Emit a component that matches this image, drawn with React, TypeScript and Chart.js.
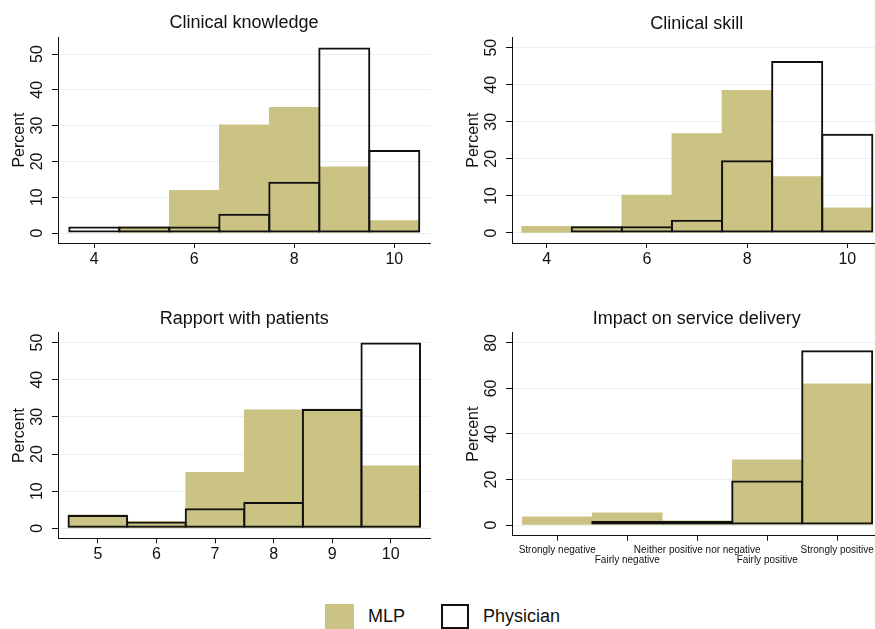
import React, { useEffect, useRef } from "react";
import { Chart, registerables } from "chart.js";

Chart.register(...registerables);

// ---- data (percent of respondents) ----
const scoreBins = [4, 5, 6, 7, 8, 9, 10];
const knowledgeMLP = [0, 1.8, 11.9, 30.2, 35.1, 18.5, 3.5];
const knowledgePhysician = [1.8, 1.8, 1.8, 5.4, 14.3, 51.8, 23.2];
const skillMLP = [1.8, 1.8, 10.2, 26.8, 38.5, 15.2, 6.8];
const skillPhysician = [0, 1.8, 1.8, 3.6, 19.6, 46.4, 26.8];

const rapportBins = [5, 6, 7, 8, 9, 10];
const rapportMLP = [3.6, 1.8, 15.1, 31.9, 32.1, 16.8];
const rapportPhysician = [3.6, 1.8, 5.4, 7.1, 32.1, 50.0];

const impactBins = [1, 2, 3, 4, 5];
const impactCategories = [
  "Strongly negative",
  "Fairly negative",
  "Neither positive nor negative",
  "Fairly positive",
  "Strongly positive",
];
const impactMLP = [3.6, 5.3, 1.8, 28.6, 62.0];
const impactPhysician = [0, 1.8, 1.8, 19.6, 76.8];

const scoreTicks = [4, 6, 8, 10];
const rapportTicks = [5, 6, 7, 8, 9, 10];
const percentTicks50 = [0, 10, 20, 30, 40, 50];
const percentTicks80 = [0, 20, 40, 60, 80];

const seriesNames = ["MLP", "Physician"];

const FONT = '"Liberation Sans", Arial, Helvetica, sans-serif';
const KHAKI = "#cbc383";
const GRID = "#e9f0f2";
const OUTLINE = 2;
const Y_AXIS_WIDTH = 58;
const RIGHT_PAD = 10;

type PanelSpec = {
  title: string;
  bins: number[];
  mlp: number[];
  physician: number[];
  xTicks: number[];
  xLabels?: string[];
  yTicks: number[];
  xRange: [number, number];
  yRange: [number, number];
  box: { left: number; top: number; width: number; height: number };
  padTop: number;
  xHeight: number;
  titlePos: [number, number];
};

const panels: PanelSpec[] = [
  {
    title: "Clinical knowledge",
    bins: scoreBins,
    mlp: knowledgeMLP,
    physician: knowledgePhysician,
    xTicks: scoreTicks,
    yTicks: percentTicks50,
    xRange: [3.274, 10.714],
    yRange: [-2.79, 54.75],
    box: { left: 0, top: 0, width: 440, height: 290 },
    padTop: 37,
    xHeight: 47,
    titlePos: [244, 23.5],
  },
  {
    title: "Clinical skill",
    bins: scoreBins,
    mlp: skillMLP,
    physician: skillPhysician,
    xTicks: scoreTicks,
    yTicks: percentTicks50,
    xRange: [3.307, 10.553],
    yRange: [-2.7, 52.8],
    box: { left: 454, top: 0, width: 431, height: 290 },
    padTop: 37.3,
    xHeight: 47,
    titlePos: [242.7, 23.7],
  },
  {
    title: "Rapport with patients",
    bins: rapportBins,
    mlp: rapportMLP,
    physician: rapportPhysician,
    xTicks: rapportTicks,
    yTicks: percentTicks50,
    xRange: [4.32, 10.67],
    yRange: [-2.69, 52.66],
    box: { left: 0, top: 290, width: 440, height: 290 },
    padTop: 42.7,
    xHeight: 41.7,
    titlePos: [244.3, 29.3],
  },
  {
    title: "Impact on service delivery",
    bins: impactBins,
    mlp: impactMLP,
    physician: impactPhysician,
    xTicks: impactBins,
    xLabels: impactCategories,
    yTicks: percentTicks80,
    xRange: [0.353, 5.54],
    yRange: [-4.7, 84.5],
    box: { left: 454, top: 290, width: 431, height: 290 },
    padTop: 42.7,
    xHeight: 44.3,
    titlePos: [242.7, 29.3],
  },
];

// Draws the panel heading and the rotated y tick labels.
const panelText = {
  id: "panelText",
  afterDraw(chart: any, _args: any, opts: any) {
    const { ctx, chartArea } = chart;
    const yScale = chart.scales.y;
    ctx.save();
    ctx.fillStyle = "#111";
    ctx.textAlign = "center";
    ctx.textBaseline = "middle";
    ctx.font = `16px ${FONT}`;
    for (const t of yScale.ticks) {
      const py = yScale.getPixelForValue(t.value);
      ctx.save();
      ctx.translate(chartArea.left - 20.5, py);
      ctx.rotate(-Math.PI / 2);
      ctx.fillText(String(t.value), 0, 0);
      ctx.restore();
    }
    ctx.font = `18px ${FONT}`;
    ctx.fillText(opts.title, opts.x, opts.y);
    ctx.restore();
  },
};

function Panel({ spec }: { spec: PanelSpec }) {
  const ref = useRef<HTMLCanvasElement | null>(null);

  useEffect(() => {
    if (!ref.current) return;
    const toPoints = (vals: number[]) =>
      spec.bins.map((b, i) => ({ x: b, y: vals[i] > 0 ? vals[i] : null }));

    // Widen the outlined bars by one stroke so neighbouring outlines
    // overlap into a single centred line.
    const plotWidth = spec.box.width - Y_AXIS_WIDTH - RIGHT_PAD;
    const pxPerBin = plotWidth / (spec.xRange[1] - spec.xRange[0]);
    const outlinePercent = 1 + OUTLINE / pxPerBin;

    const chart = new Chart(ref.current, {
      type: "bar",
      data: {
        datasets: [
          {
            label: seriesNames[1],
            data: toPoints(spec.physician),
            backgroundColor: "rgba(0,0,0,0)",
            borderColor: "#111",
            borderWidth: OUTLINE,
            borderSkipped: false,
            grouped: false,
            categoryPercentage: 1,
            barPercentage: outlinePercent,
            order: 0,
          },
          {
            label: seriesNames[0],
            data: toPoints(spec.mlp),
            backgroundColor: KHAKI,
            borderWidth: 0,
            grouped: false,
            categoryPercentage: 1,
            barPercentage: 1,
            order: 1,
          },
        ],
      } as any,
      options: {
        animation: false,
        responsive: false,
        events: [],
        layout: { padding: { top: spec.padTop, right: RIGHT_PAD, left: 0, bottom: 0 } },
        plugins: {
          legend: { display: false },
          tooltip: { enabled: false },
          panelText: { title: spec.title, x: spec.titlePos[0], y: spec.titlePos[1] },
        } as any,
        scales: {
          x: {
            type: "linear",
            min: spec.xRange[0],
            max: spec.xRange[1],
            offset: false,
            afterBuildTicks: (s: any) => {
              s.ticks = spec.xTicks.map((v) => ({ value: v }));
            },
            afterFit: (s: any) => {
              s.height = spec.xHeight;
            },
            grid: {
              offset: false,
              drawOnChartArea: false,
              drawTicks: true,
              tickLength: 5,
              tickColor: "#111",
              tickWidth: 1,
            },
            border: { display: true, color: "#111", width: 1 },
            ticks: {
              autoSkip: false,
              maxRotation: 0,
              minRotation: 0,
              color: "#111",
              padding: spec.xLabels ? 4.5 : 2,
              font: spec.xLabels
                ? { family: FONT, size: 10, lineHeight: 1 }
                : { family: FONT, size: 16 },
              callback: (v: any) => {
                if (!spec.xLabels) return String(v);
                const i = Number(v) - 1;
                const label = spec.xLabels[i];
                return i % 2 === 0 ? [label] : ["", label];
              },
            },
          },
          y: {
            type: "linear",
            min: spec.yRange[0],
            max: spec.yRange[1],
            afterBuildTicks: (s: any) => {
              s.ticks = spec.yTicks.map((v) => ({ value: v }));
            },
            afterFit: (s: any) => {
              s.width = Y_AXIS_WIDTH;
            },
            grid: {
              color: GRID,
              lineWidth: 1,
              drawTicks: true,
              tickLength: 6,
              tickColor: "#111",
              tickWidth: 1,
            },
            border: { display: true, color: "#111", width: 1 },
            ticks: { display: false },
            title: {
              display: true,
              text: "Percent",
              color: "#111",
              font: { family: FONT, size: 16 },
              padding: { top: 9.6, bottom: 0 },
            },
          },
        },
      } as any,
      plugins: [panelText as any],
    });
    return () => chart.destroy();
  }, [spec]);

  return (
    <canvas
      ref={ref}
      width={spec.box.width}
      height={spec.box.height}
      style={{
        position: "absolute",
        left: spec.box.left,
        top: spec.box.top,
        width: spec.box.width,
        height: spec.box.height,
      }}
    />
  );
}

export default function App() {
  const legendText: React.CSSProperties = {
    position: "absolute",
    top: 604,
    height: 25,
    lineHeight: "25px",
    fontFamily: FONT,
    fontSize: 18,
    color: "#111",
    whiteSpace: "nowrap",
  };
  return (
    <div
      style={{
        position: "fixed",
        left: 0,
        top: 0,
        width: 875,
        height: 629,
        overflow: "hidden",
        background: "#fff",
      }}
    >
      {panels.map((p) => (
        <Panel key={p.title} spec={p} />
      ))}
      <div
        style={{
          position: "absolute",
          left: 325,
          top: 604,
          width: 29,
          height: 25,
          background: KHAKI,
        }}
      />
      <div style={{ ...legendText, left: 368 }}>{seriesNames[0]}</div>
      <div
        style={{
          position: "absolute",
          left: 441,
          top: 604,
          width: 28,
          height: 25,
          border: "2px solid #111",
          boxSizing: "border-box",
          background: "#fff",
        }}
      />
      <div style={{ ...legendText, left: 483 }}>{seriesNames[1]}</div>
    </div>
  );
}
